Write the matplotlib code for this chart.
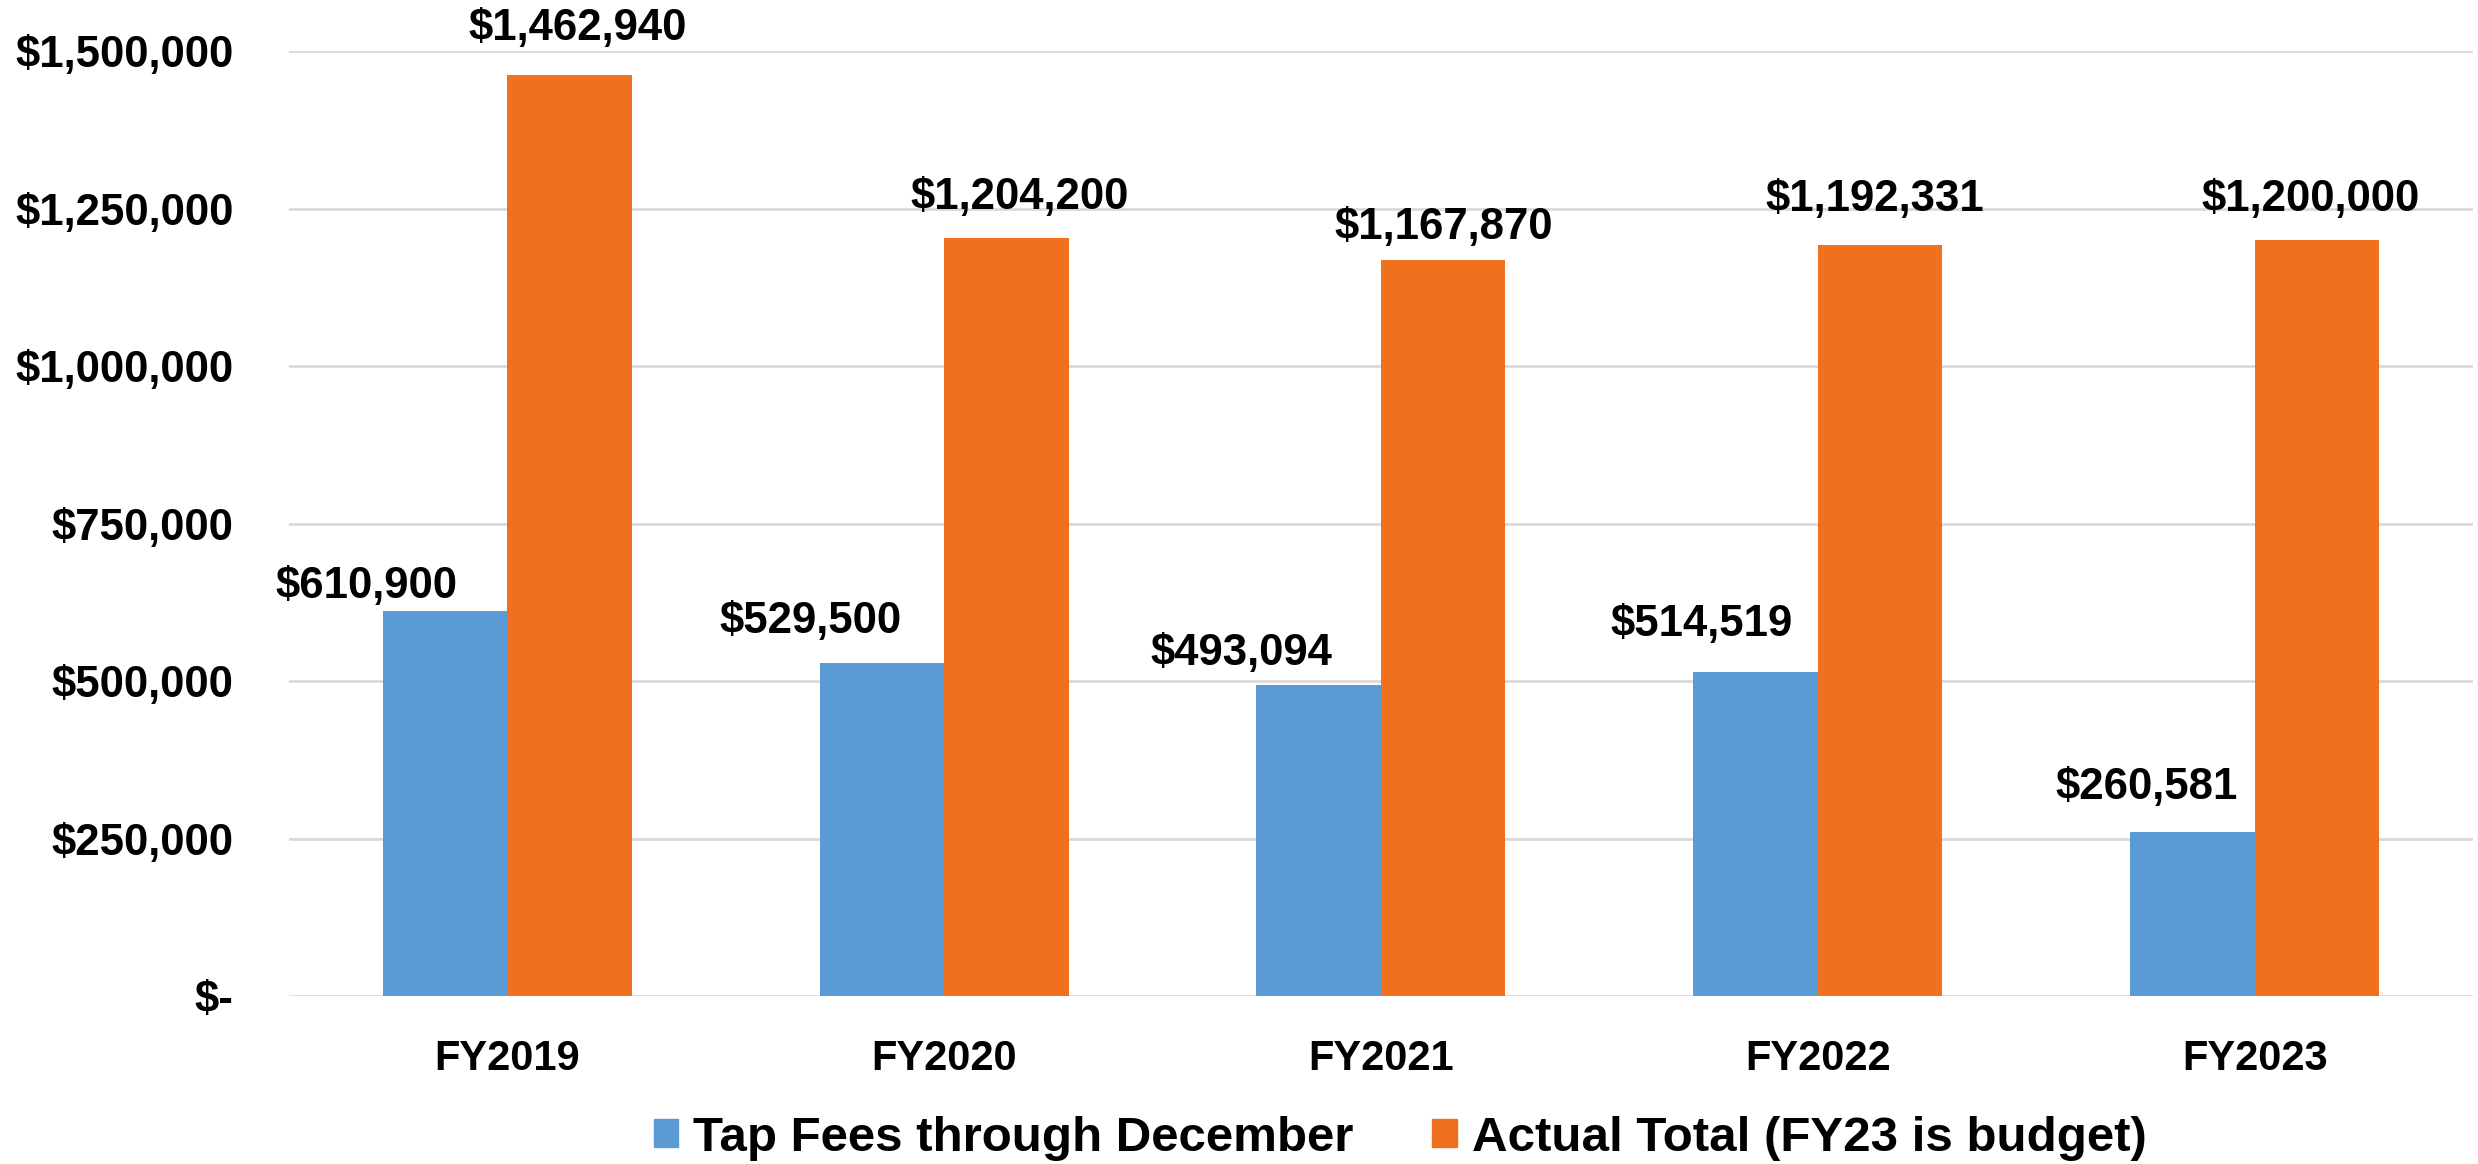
import matplotlib.pyplot as plt
from matplotlib.patches import Patch
from matplotlib.ticker import FuncFormatter
import numpy as np

years = ["FY2019", "FY2020", "FY2021", "FY2022", "FY2023"]
tap_fees = [610900, 529500, 493094, 514519, 260581]
actual_total = [1462940, 1204200, 1167870, 1192331, 1200000]
series_names = ["Tap Fees through December", "Actual Total (FY23 is budget)"]

# label nudges in pixels (dx, dy from bar top)
tap_offsets = [(-79, 25), (-71, 41), (-77, 32), (-54, 47), (-46, 44)]
total_offsets = [(8, 46), (13, 40), (0, 33), (-5, 46), (-6, 41)]

blue = "#5B9BD5"
orange = "#F07020"
grid_col = "#D9D9D9"

plt.rcParams['font.family'] = ['Liberation Sans', 'DejaVu Sans']
plt.rcParams['font.weight'] = 'bold'

fig = plt.figure(figsize=(24.78, 11.64), dpi=100)
ax = fig.add_axes([0.1166, 0.1443, 0.8814, 0.8117])

x = np.arange(len(years))
w = 0.285
ax.bar(x - w / 2, tap_fees, w, color=blue, zorder=3)
ax.bar(x + w / 2, actual_total, w, color=orange, zorder=3)

def money(v, pos=None):
    if v == 0:
        return "$-"
    return f"${v:,.0f}"

for i in range(len(years)):
    dx, dy = tap_offsets[i]
    ax.annotate(money(tap_fees[i]), (x[i] - w / 2, tap_fees[i]), xytext=(dx, dy),
                textcoords='offset pixels', ha='center', va='center', fontsize=31.5,
                fontweight='bold')
    dx, dy = total_offsets[i]
    ax.annotate(money(actual_total[i]), (x[i] + w / 2, actual_total[i]), xytext=(dx, dy),
                textcoords='offset pixels', ha='center', va='center', fontsize=31.5,
                fontweight='bold')

ax.set_xlim(-0.5, len(years) - 0.5)
ax.set_ylim(0, 1500000)
ax.set_yticks(np.arange(0, 1500001, 250000))
ax.yaxis.set_major_formatter(FuncFormatter(money))
ax.set_xticks(x)
ax.set_xticklabels(years)
ax.tick_params(axis='both', length=0)
ax.tick_params(axis='y', labelsize=31.5, pad=40)
ax.tick_params(axis='x', labelsize=30, pad=31)
ax.grid(axis='y', color=grid_col, linewidth=2, zorder=0)
for s in ax.spines.values():
    s.set_visible(False)

handles = [Patch(color=blue), Patch(color=orange)]
fig.legend(handles, series_names, loc='center', bbox_to_anchor=(0.565, 0.022),
           ncol=2, frameon=False, fontsize=35.5, handlelength=0.5, handleheight=0.5,
           handletextpad=0.3, columnspacing=1.6)

fig.savefig("out.png", dpi=100)
